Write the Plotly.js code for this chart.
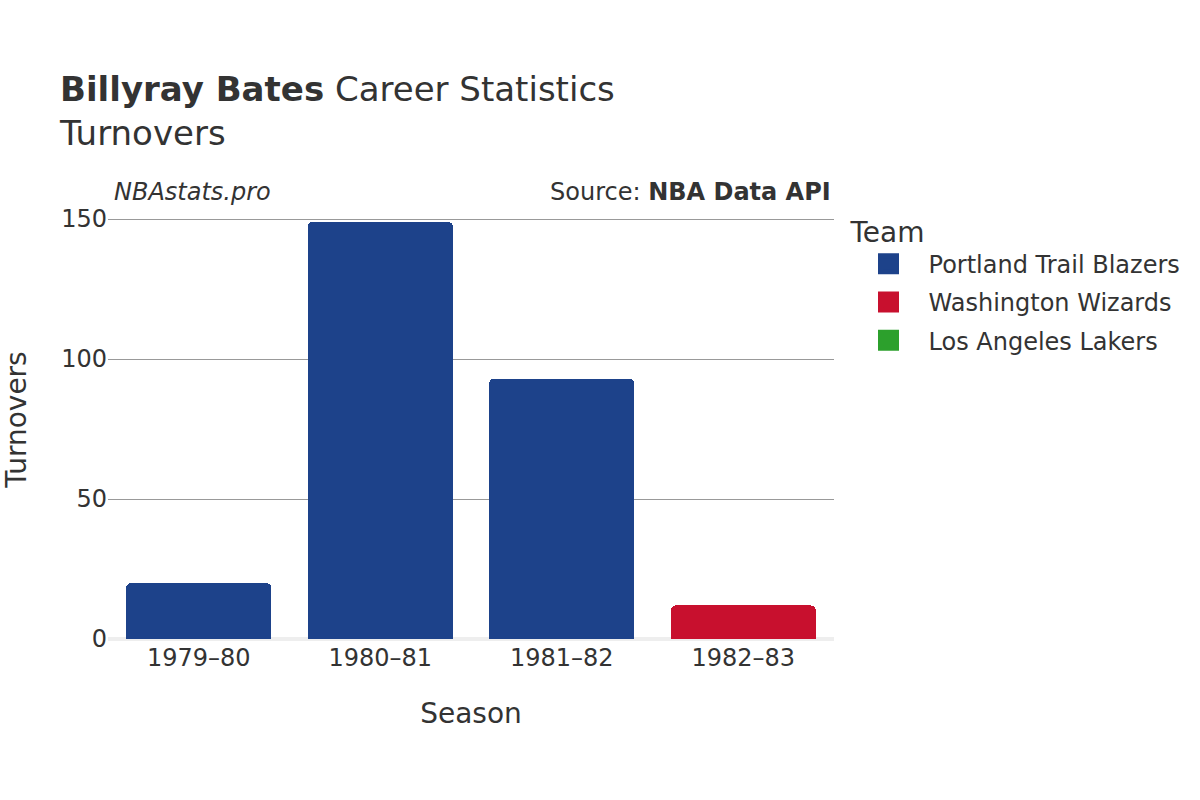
<!DOCTYPE html>
<html>
<head>
<meta charset="utf-8">
<script src="https://cdn.plot.ly/plotly-3.0.1.min.js"></script>
<style>
  body { margin: 0; }
  #myDiv { width: 1200px; height: 800px; }
</style>
</head>
<body>
<div id="myDiv"></div>
<script>
var seasons = ['1979–80', '1980–81', '1981–82', '1982–83'];

// turnovers per team, season by season
var teams = ['Portland Trail Blazers', 'Washington Wizards', 'Los Angeles Lakers'];
var teamColors = ['#1d428a', '#c8102e', '#2ca02c'];
var portlandSeasons = ['1979–80', '1980–81', '1981–82'];
var portlandTov = [20, 149, 93];
var washingtonSeasons = ['1982–83'];
var washingtonTov = [12];
var lakersSeasons = ['1982–83'];
var lakersTov = [0];

var font = 'DejaVu Sans, sans-serif';

var barX = [portlandSeasons, washingtonSeasons, lakersSeasons];
var barY = [portlandTov, washingtonTov, lakersTov];

var data = [];
// the bars themselves, legend handled by marker-only traces below
for (var i = 0; i < teams.length; i++) {
    data.push({
        x: barX[i],
        y: barY[i],
        type: 'bar',
        name: teams[i],
        legendgroup: teams[i],
        showlegend: false,
        marker: { color: teamColors[i] },
        hoverinfo: 'none'
    });
}
// bigger legend swatches
for (var j = 0; j < teams.length; j++) {
    data.push({
        x: [null],
        y: [null],
        type: 'scatter',
        mode: 'markers',
        name: teams[j],
        legendgroup: teams[j],
        marker: {
            symbol: 'square',
            size: 16,
            color: teamColors[j],
            line: { color: teamColors[j], width: 5 }
        },
        hoverinfo: 'none'
    });
}

var layout = {
    width: 1200,
    height: 800,
    font: { family: font, color: '#333', size: 24 },
    paper_bgcolor: '#fff',
    plot_bgcolor: '#fff',
    margin: { l: 108, r: 366, t: 200, b: 161 },
    barmode: 'stack',
    bargap: 0.2,
    barcornerradius: 5,
    title: {
        text: '<b>Billyray Bates</b> Career Statistics<br>Turnovers',
        font: { size: 34, family: font, color: '#333' },
        xref: 'container',
        yref: 'container',
        x: 0.05,
        xanchor: 'left',
        y: 0.874,
        yanchor: 'top'
    },
    xaxis: {
        categoryorder: 'array',
        categoryarray: seasons,
        title: { text: 'Season', font: { size: 28 }, standoff: 32 },
        tickfont: { size: 24 },
        showgrid: false,
        showline: false,
        ticks: '',
        ticklabelstandoff: 2
    },
    yaxis: {
        title: { text: 'Turnovers', font: { size: 28 }, standoff: 32 },
        tickfont: { size: 24 },
        range: [0, 156.8],
        tickvals: [0, 50, 100, 150],
        showgrid: true,
        gridcolor: '#999',
        gridwidth: 1,
        zeroline: true,
        zerolinecolor: '#eee',
        zerolinewidth: 4,
        ticks: ''
    },
    legend: {
        title: { text: 'Team', font: { size: 28 } },
        font: { size: 24 },
        x: 1.02,
        xanchor: 'left',
        y: 0.988,
        yanchor: 'top',
        traceorder: 'grouped',
        itemwidth: 70,
        itemsizing: 'trace',
        tracegroupgap: 4
    },
    annotations: [
        {
            text: '<i>NBAstats.pro</i>',
            xref: 'paper', yref: 'paper',
            x: 0.005, y: 1.018,
            xanchor: 'left', yanchor: 'middle',
            showarrow: false,
            font: { size: 24, color: '#333' }
        },
        {
            text: 'Source: <b>NBA Data API</b>',
            xref: 'paper', yref: 'paper',
            x: 0.999, y: 1.018,
            xanchor: 'right', yanchor: 'middle',
            showarrow: false,
            font: { size: 24, color: '#333' }
        }
    ]
};

var config = { displayModeBar: false, staticPlot: true };

Plotly.newPlot('myDiv', data, layout, config);
</script>
</body>
</html>
